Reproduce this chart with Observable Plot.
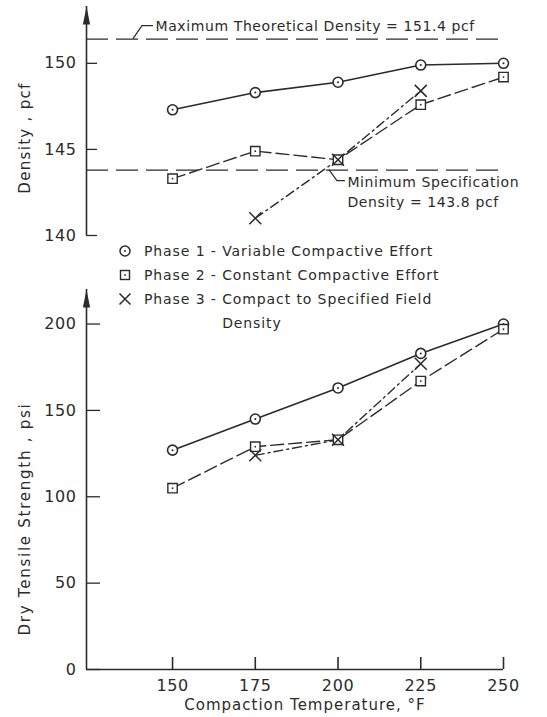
<!DOCTYPE html>
<html>
<head>
<meta charset="utf-8">
<script src="https://cdn.jsdelivr.net/npm/d3@7"></script>
<script src="https://cdn.jsdelivr.net/npm/@observablehq/plot@0.6"></script>
<style>
  body { margin: 0; background: #fff; }
  #chart { position: relative; width: 547px; height: 717px; background: #fff;
           font-family: "DejaVu Sans", sans-serif; color: #2b2b2b; }
  #chart > svg { position: absolute; left: 0; }
  .legend { position: absolute; left: 116px; top: 239px; font-size: 14px; letter-spacing: 0.9px; line-height: 24px; }
  .legend .row { display: flex; align-items: flex-start; }
  .legend .key { width: 28px; height: 24px; flex: none; }
  .legend .name { white-space: pre; }
  .legend .wrap { display: inline-block; vertical-align: top; }
  .title { position: absolute; font-size: 15px; white-space: nowrap; line-height: 1; }
  .title.y { transform: translate(-50%, -50%) rotate(-90deg); }
  .title.x { transform: translate(-50%, -50%); }
</style>
</head>
<body>
<div id="chart"></div>
<script>
// Compaction temperatures (°F)
const temperatures = [150, 175, 200, 225, 250];
const phase3Temperatures = [175, 200, 225];

// Density, pcf
const densityPhase1 = [147.3, 148.3, 148.9, 149.9, 150.0];
const densityPhase2 = [143.3, 144.9, 144.4, 147.6, 149.2];
const densityPhase3 = [141.0, 144.4, 148.4];
const maxTheoreticalDensity = 151.4;
const minSpecDensity = 143.8;

// Dry tensile strength, psi
const strengthPhase1 = [127, 145, 163, 183, 200];
const strengthPhase2 = [105, 129, 133, 167, 197];
const strengthPhase3 = [124, 133, 177];

// Axis ticks
const xTicks = [150, 175, 200, 225, 250];
const densityTicks = [140, 145, 150];
const strengthTicks = [0, 50, 100, 150, 200];

const legendNames = [
  "Phase 1 - Variable Compactive Effort",
  "Phase 2 - Constant Compactive Effort",
  "Phase 3 - Compact to Specified Field\nDensity"
];

const ink = "#2b2b2b";
const xDomain = [124, 250];
const W = 547, ML = 86, MR = 44;
const innerW = W - ML - MR;

const series = (xs, ys) => xs.map((t, i) => ({t, v: ys[i]}));
const d1 = series(temperatures, densityPhase1);
const d2 = series(temperatures, densityPhase2);
const d3s = series(phase3Temperatures, densityPhase3);
const s1 = series(temperatures, strengthPhase1);
const s2 = series(temperatures, strengthPhase2);
const s3 = series(phase3Temperatures, strengthPhase3);

// filled axis arrowhead, tip at the anchor point
const arrowHead = {draw(ctx) { ctx.moveTo(0, 0); ctx.lineTo(3.6, 18); ctx.lineTo(-3.6, 18); ctx.closePath(); }};

const dash2 = "13,5";
const dash3 = "9,4,2,4";

function phaseMarks(p1, p2, p3) {
  return [
    Plot.line(p1, {x: "t", y: "v", stroke: ink, strokeWidth: 1.6}),
    Plot.line(p2, {x: "t", y: "v", stroke: ink, strokeWidth: 1.4, strokeDasharray: dash2}),
    Plot.line(p3, {x: "t", y: "v", stroke: ink, strokeWidth: 1.4, strokeDasharray: dash3}),
    Plot.dot(p1, {x: "t", y: "v", r: 5, fill: "white", stroke: ink, strokeWidth: 1.6}),
    Plot.dot(p1, {x: "t", y: "v", r: 1, fill: ink}),
    Plot.dot(p2, {x: "t", y: "v", r: 5.3, symbol: "square", fill: "white", stroke: ink, strokeWidth: 1.4}),
    Plot.dot(p2, {x: "t", y: "v", r: 0.9, fill: ink}),
    Plot.dot(p3, {x: "t", y: "v", r: 5.5, symbol: "times", stroke: ink, strokeWidth: 1.5})
  ];
}

// leader line drawn from a point on a reference line, offsets in pixels
const leader = (xv, yv, pts) => (index, {x, y}) => {
  const x0 = x(xv), y0 = y(yv);
  return d3.create("svg:path")
    .attr("d", d3.line()(pts.map(([dx, dy]) => [x0 + dx, y0 + dy])))
    .attr("fill", "none").attr("stroke", ink).attr("stroke-width", 1.2)
    .node();
};

const svgStyle = {background: "transparent", fontFamily: "DejaVu Sans, sans-serif", fontSize: "15px", color: ink, letterSpacing: "0.6px", overflow: "visible"};

// ---- Density panel ----
const densityDomain = [140, 153.3];
const topPlot = Plot.plot({
  width: W, height: 240, marginLeft: ML, marginRight: MR, marginTop: 6, marginBottom: 5,
  style: svgStyle,
  x: {domain: xDomain, axis: null},
  y: {domain: densityDomain, axis: null},
  marks: [
    Plot.ruleY([maxTheoreticalDensity], {stroke: ink, strokeWidth: 1.3, strokeDasharray: "22,8"}),
    Plot.ruleY([minSpecDensity], {stroke: ink, strokeWidth: 1.3, strokeDasharray: "22,8"}),
    Plot.ruleX([xDomain[0]], {stroke: ink, strokeWidth: 1.6}),
    Plot.dot([densityDomain[1]], {x: () => xDomain[0], y: d => d, symbol: arrowHead, fill: ink, stroke: "none"}),
    Plot.tickY(densityTicks, {y: d => d, stroke: ink, strokeWidth: 1.3, insetRight: innerW - 11}),
    Plot.axisY(densityTicks, {tickSize: 0, tickPadding: 10, label: null, fontSize: 16}),
    ...phaseMarks(d1, d2, d3s),
    leader(138.2, maxTheoreticalDensity, [[0, 0], [9, -13], [20, -13]]),
    Plot.text([`Maximum Theoretical Density = ${maxTheoreticalDensity} pcf`],
      {x: () => 138.2, y: () => maxTheoreticalDensity, dx: 22, dy: -13, textAnchor: "start", fontSize: 14, fill: ink}),
    leader(197.4, minSpecDensity, [[0, 0], [8, 11], [16, 11]]),
    Plot.text([`Minimum Specification\nDensity = ${minSpecDensity} pcf`],
      {x: () => 197.4, y: () => minSpecDensity, dx: 18, dy: 21, textAnchor: "start", lineAnchor: "middle", lineHeight: 1.43, fontSize: 14, fill: ink})
  ]
});
topPlot.style.top = "0px";

// ---- Tensile strength panel ----
const strengthDomain = [0, 220];
const bottomPlot = Plot.plot({
  width: W, height: 477, marginLeft: ML, marginRight: MR, marginTop: 49, marginBottom: 48,
  style: svgStyle,
  x: {domain: xDomain, axis: null},
  y: {domain: strengthDomain, axis: null},
  marks: [
    Plot.ruleX([xDomain[0]], {stroke: ink, strokeWidth: 1.6}),
    Plot.ruleY([strengthDomain[0]], {stroke: ink, strokeWidth: 1.6}),
    Plot.dot([strengthDomain[1]], {x: () => xDomain[0], y: d => d, symbol: arrowHead, fill: ink, stroke: "none"}),
    Plot.tickY(strengthTicks, {y: d => d, stroke: ink, strokeWidth: 1.3, insetRight: innerW - 14}),
    Plot.tickX(xTicks, {x: d => d, stroke: ink, strokeWidth: 1.6, insetTop: 380 - 12}),
    Plot.axisY(strengthTicks, {tickSize: 0, tickPadding: 10, label: null, fontSize: 16}),
    Plot.axisX(xTicks, {tickSize: 0, tickPadding: 10, label: null, fontSize: 16}),
    ...phaseMarks(s1, s2, s3)
  ]
});
bottomPlot.style.top = "240px";

const chart = document.getElementById("chart");
chart.append(topPlot, bottomPlot);

// ---- Axis titles ----
const titles = [
  {text: "Density , pcf", cls: "y", left: 25, top: 138, spacing: 1.3},
  {text: "Dry Tensile Strength , psi", cls: "y", left: 25, top: 519, spacing: 1.75},
  {text: "Compaction Temperature, °F", cls: "x", left: 305, top: 705, spacing: 1.0}
];
for (const t of titles) {
  const el = document.createElement("div");
  el.className = `title ${t.cls}`;
  el.textContent = t.text;
  el.style.left = `${t.left}px`;
  el.style.top = `${t.top}px`;
  el.style.letterSpacing = `${t.spacing}px`;
  chart.append(el);
}

// ---- Legend ----
const keySvg = [
  `<svg class="key" viewBox="0 0 28 24"><circle cx="9" cy="12" r="5" fill="white" stroke="${ink}" stroke-width="1.5"/><circle cx="9" cy="12" r="1" fill="${ink}"/></svg>`,
  `<svg class="key" viewBox="0 0 28 24"><rect x="4.5" y="7.5" width="9" height="9" fill="white" stroke="${ink}" stroke-width="1.4"/><circle cx="9" cy="12" r="0.9" fill="${ink}"/></svg>`,
  `<svg class="key" viewBox="0 0 28 24"><path d="M3.5,6.5L14.5,17.5M14.5,6.5L3.5,17.5" stroke="${ink}" stroke-width="1.5"/></svg>`
];
const legend = document.createElement("div");
legend.className = "legend";
legendNames.forEach((name, i) => {
  const row = document.createElement("div");
  row.className = "row";
  const [first, ...rest] = name.split("\n");
  const m = first.match(/^(Phase \d+ - )(.*)$/);
  row.innerHTML = keySvg[i] + `<span class="name">${m[1]}</span><span class="wrap">${[m[2], ...rest].join("<br>")}</span>`;
  legend.append(row);
});
chart.append(legend);
</script>
</body>
</html>
